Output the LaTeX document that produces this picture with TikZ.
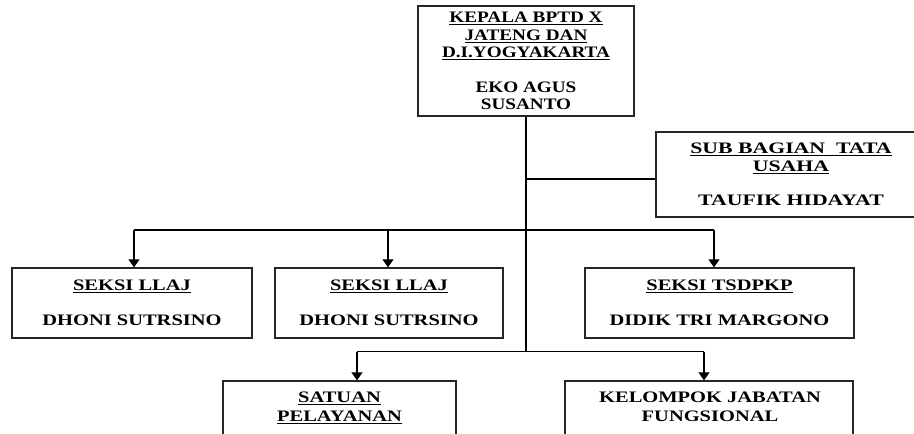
\documentclass[tikz,border=0pt]{standalone}
\usepackage{fontspec}
\setmainfont[FakeStretch=1.28]{Liberation Serif}
\newfontfamily\kepfont[FakeStretch=1.2]{Liberation Serif}
\newfontfamily\subfont[FakeStretch=1.36]{Liberation Serif}
\usetikzlibrary{arrows.meta}
\begin{document}
\begin{tikzpicture}[x=1pt,y=-1pt,
  box/.style={draw=black!85,line width=1.3pt,inner sep=0pt,align=center,
    font=\fontsize{16}{17.5}\selectfont\bfseries},
  txt/.style={inner sep=0pt,align=center,font=\fontsize{16}{19}\selectfont\bfseries},
  conn/.style={line width=1.2pt},
  arr/.style={conn,-{Triangle[width=11pt,length=8pt]}}]
\useasboundingbox (0,0) rectangle (914,434);
% boxes
\node[box,font=\kepfont\fontsize{16}{17.5}\selectfont\bfseries,minimum width=216pt,minimum height=110pt] (kepala) at (526,61)
  {\underline{KEPALA BPTD X}\\ \underline{JATENG DAN}\\ \underline{D.I.YOGYAKARTA}\\[17pt] EKO AGUS\\ SUSANTO};
\node[box,font=\subfont\fontsize{16}{17.5}\selectfont\bfseries,minimum width=270pt,minimum height=85pt] (sub) at (791,174.5)
  {\underline{SUB BAGIAN\ \ TATA}\\ \underline{USAHA}\\[17pt] TAUFIK HIDAYAT};
\node[box,minimum width=240pt,minimum height=70pt] (s1) at (132,303)
  {\underline{SEKSI LLAJ}\\[17pt] DHONI SUTRSINO};
\node[box,minimum width=228pt,minimum height=70pt] (s2) at (389,303)
  {\underline{SEKSI LLAJ}\\[17pt] DHONI SUTRSINO};
\node[box,minimum width=269pt,minimum height=70pt] (s3) at (719.5,303)
  {\underline{SEKSI TSDPKP}\\[17pt] DIDIK TRI MARGONO};
\node[box,minimum width=233pt,minimum height=89pt] (s4) at (339.5,425.5) {};
\node[box,minimum width=288pt,minimum height=89pt] (s5) at (709,425.5) {};
\node[txt,anchor=north] (t4) at (339.5,392) {\underline{SATUAN}\\ \underline{PELAYANAN}};
\node[txt,anchor=north] (t5) at (710,392) {KELOMPOK JABATAN\\ FUNGSIONAL};
% junctions
\coordinate (j1) at (526,179);
\coordinate (j3) at (526,351.5);
\coordinate (b1) at (134,230);
\coordinate (b2) at (388,230);
\coordinate (b3) at (714,230);
\coordinate (c1) at (357,351.5);
\coordinate (c2) at (704,351.5);
% connectors
\draw[conn] (kepala.south) -- (j3);
\draw[conn] (j1) -- (j1 -| sub.west);
\draw[conn] (b1) -- (b3);
\draw[arr] (b1) -- (b1 |- s1.north);
\draw[arr] (b2) -- (b2 |- s2.north);
\draw[arr] (b3) -- (b3 |- s3.north);
\draw[conn] (c1) -- (c2);
\draw[arr] (c1) -- (c1 |- s4.north);
\draw[arr] (c2) -- (c2 |- s5.north);
\end{tikzpicture}
\end{document}
